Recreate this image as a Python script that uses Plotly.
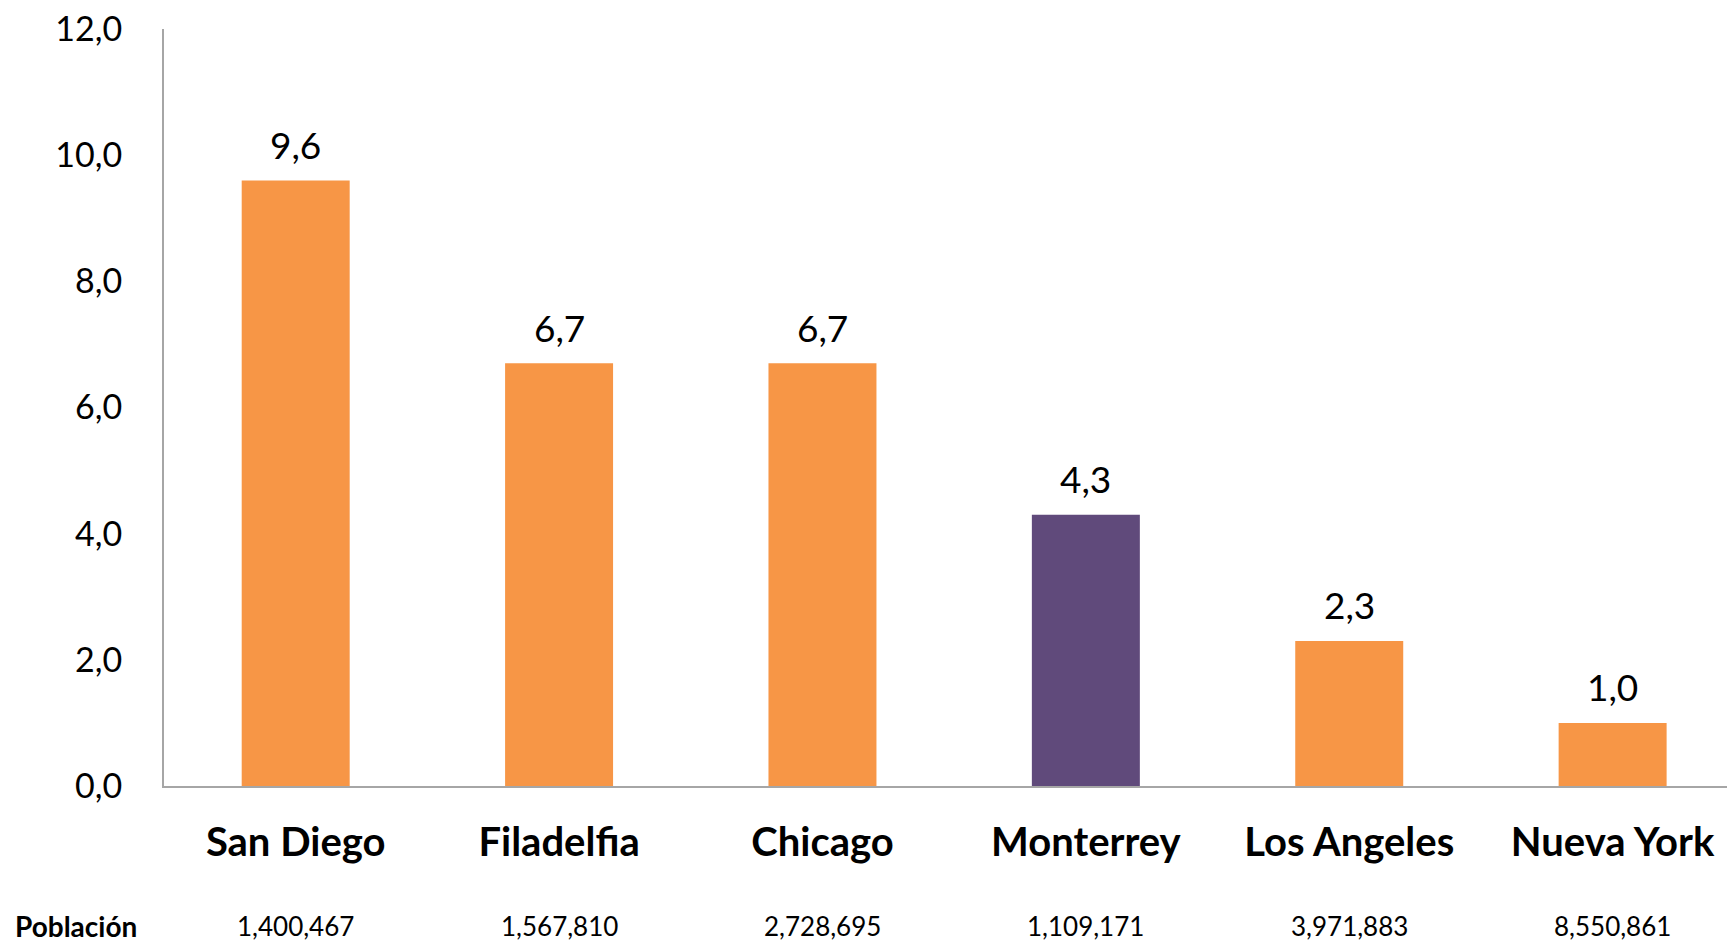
import plotly.graph_objects as go

# --- data ---
ciudades = ["San Diego", "Filadelfia", "Chicago", "Monterrey", "Los Angeles", "Nueva York"]
valores = [9.6, 6.7, 6.7, 4.3, 2.3, 1.0]
poblacion = [1400467, 1567810, 2728695, 1109171, 3971883, 8550861]
destacada = "Monterrey"

NARANJA = "#F79646"
MORADO = "#604A7B"
FONT = "Lato, 'Open Sans', sans-serif"

colores = [MORADO if c == destacada else NARANJA for c in ciudades]

fig = go.Figure(go.Bar(
    x=ciudades, y=valores,
    marker=dict(color=colores, line=dict(width=0)),
    width=0.41,
))

# value labels above the bars
for c, v in zip(ciudades, valores):
    fig.add_annotation(
        x=c, y=v, text=f"{v:.1f}".replace(".", ","), showarrow=False,
        yanchor="middle", yshift=36,
        font=dict(size=37, color="black", family=FONT),
    )

# population row under the category labels
for c, p in zip(ciudades, poblacion):
    fig.add_annotation(
        x=c, xref="x", y=-0.185, yref="paper",
        text=f"{p:,}", showarrow=False,
        font=dict(size=26, color="black", family=FONT),
        yanchor="middle",
    )
fig.add_annotation(
    x=-0.0956, xref="paper", y=-0.185, yref="paper",
    text="<b>Población</b>", showarrow=False, xanchor="left",
    font=dict(size=28, color="black", family=FONT),
    yanchor="middle",
)

fig.update_layout(
    width=1735, height=942,
    plot_bgcolor="white", paper_bgcolor="white",
    separators=",.",
    margin=dict(l=156, r=0, t=21, b=164),
    showlegend=False,
    font=dict(family=FONT, color="black"),
    xaxis=dict(
        range=[-0.5, 5.495], automargin=False,
        showline=True, linecolor="#A6A6A6", linewidth=2,
        showgrid=False, ticks="",
        tickfont=dict(size=40, family=FONT, color="black", weight="bold"),
        ticklabelstandoff=20,
    ),
    yaxis=dict(
        range=[0, 12], dtick=2, tickformat=".1f", automargin=False,
        showline=True, linecolor="#A6A6A6", linewidth=2,
        showgrid=False, zeroline=False, ticks="",
        tickfont=dict(size=34, family=FONT, color="black"),
        ticklabelstandoff=33, ticklabeloverflow="allow",
    ),
)

fig.write_html("out.html")
